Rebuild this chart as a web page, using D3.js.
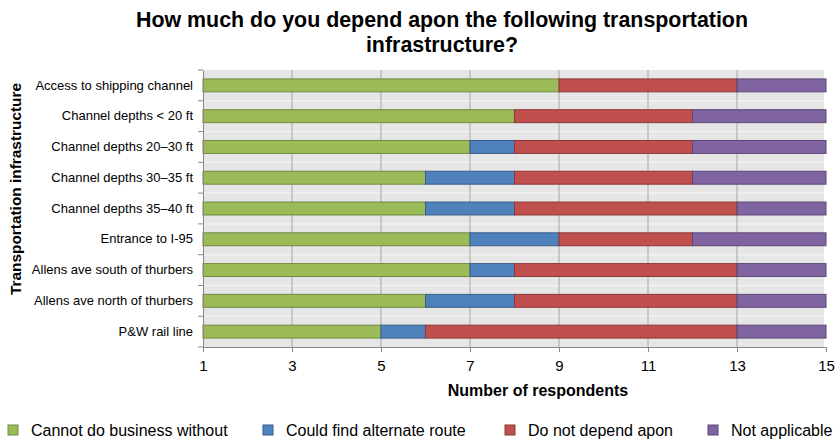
<!DOCTYPE html>
<html>
<head>
<meta charset="utf-8">
<script src="https://cdn.jsdelivr.net/npm/d3@7"></script>
<style>
  body { margin: 0; background: #fff; }
  text { font-family: "Liberation Sans", Arial, sans-serif; fill: #000; }
</style>
</head>
<body>
<div id="chart"></div>
<script>
// Data (respondents, 15 total per row)
var categories = ["Access to shipping channel", "Channel depths < 20 ft", "Channel depths 20\u201330 ft",
  "Channel depths 30\u201335 ft", "Channel depths 35\u201340 ft", "Entrance to I-95",
  "Allens ave south of thurbers", "Allens ave north of thurbers", "P&W rail line"];
var seriesNames = ["Cannot do business without", "Could find alternate route", "Do not depend apon", "Not applicable"];
var cannotDo = [9, 8, 7, 6, 6, 7, 7, 6, 5];
var alternate = [0, 0, 1, 2, 2, 2, 1, 2, 1];
var notDepend = [4, 4, 4, 4, 5, 3, 5, 5, 7];
var notApplicable = [2, 3, 3, 3, 2, 3, 2, 2, 2];
var xTicks = [1, 3, 5, 7, 9, 11, 13, 15];

var colors = ["#9bbb59", "#4f81bd", "#c0504d", "#8064a2"];
var strokes = ["#71893f", "#385d8a", "#8c3836", "#5c4776"];

var svgWidth = 838;
var svgHeight = 439;
var margin = { top: 70, right: 14, bottom: 92, left: 203 };
var width = svgWidth - margin.left - margin.right;
var height = svgHeight - margin.top - margin.bottom;

var svg = d3.select("#chart")
  .append("svg")
  .attr("width", svgWidth)
  .attr("height", svgHeight);

var chartGroup = svg.append("g")
  .attr("transform", `translate(${margin.left}, ${margin.top})`);

var rows = categories.map(function(c, i) {
  return { cat: c, s0: cannotDo[i], s1: alternate[i], s2: notDepend[i], s3: notApplicable[i] };
});
var stack = d3.stack().keys(["s0", "s1", "s2", "s3"])(rows);

var xScale = d3.scaleLinear().domain([1, 15]).range([0, width + 2]).clamp(true);
var yScale = d3.scaleBand().domain(categories).range([0, height]);
var barH = yScale.bandwidth() * 0.42;

// Plot background
chartGroup.append("rect")
  .attr("width", width).attr("height", height)
  .attr("fill", "#e6e6e6");

// horizontal band separators
chartGroup.append("g")
  .selectAll("line")
  .data(categories.slice(1))
  .enter()
  .append("line")
  .attr("x1", 0).attr("x2", width)
  .attr("y1", d => yScale(d)).attr("y2", d => yScale(d))
  .attr("stroke", "#f2f2f2").attr("stroke-width", 1.5);

// vertical gridlines
chartGroup.append("g")
  .selectAll("line")
  .data(xTicks.slice(1, -1))
  .enter()
  .append("line")
  .attr("x1", d => xScale(d)).attr("x2", d => xScale(d))
  .attr("y1", 0).attr("y2", height)
  .attr("stroke", "#a6a6a6").attr("stroke-width", 1);

// Bars
chartGroup.selectAll(".layer")
  .data(stack)
  .enter()
  .append("g")
  .attr("class", "layer")
  .attr("fill", (d, i) => colors[i])
  .attr("stroke", (d, i) => strokes[i])
  .selectAll("rect")
  .data(d => d.filter(p => p[1] > p[0]))
  .enter()
  .append("rect")
  .attr("x", d => xScale(d[0]))
  .attr("width", d => xScale(d[1]) - xScale(d[0]))
  .attr("y", d => yScale(d.data.cat) + (yScale.bandwidth() - barH) / 2)
  .attr("height", barH)
  .attr("stroke-width", 1);

// Axes
var yAxis = d3.axisLeft(yScale).tickSize(0).tickPadding(10);
var yG = chartGroup.append("g").call(yAxis);
yG.select(".domain").attr("stroke", "#888");
yG.selectAll("text").attr("font-size", "13px")
  .style("font-family", "'Liberation Sans', Arial, sans-serif");

chartGroup.append("g")
  .selectAll("line")
  .data(d3.range(categories.length + 1))
  .enter()
  .append("line")
  .attr("x1", -5).attr("x2", 0)
  .attr("y1", i => i * yScale.step()).attr("y2", i => i * yScale.step())
  .attr("stroke", "#888");

var xAxis = d3.axisBottom(xScale).tickValues(xTicks).tickSize(5).tickPadding(8);
var xG = chartGroup.append("g").attr("transform", `translate(0, ${height})`).call(xAxis);
xG.select(".domain").attr("stroke", "#888");
xG.selectAll(".tick line").attr("stroke", "#888");
xG.selectAll("text").attr("font-size", "15px")
  .style("font-family", "'Liberation Sans', Arial, sans-serif");

// Titles
svg.append("text")
  .attr("x", 442).attr("y", 27)
  .attr("text-anchor", "middle")
  .attr("font-size", "21.4px").attr("font-weight", "bold")
  .text("How much do you depend apon the following transportation");
svg.append("text")
  .attr("x", 442).attr("y", 52)
  .attr("text-anchor", "middle")
  .attr("font-size", "21.4px").attr("font-weight", "bold")
  .text("infrastructure?");

svg.append("text")
  .attr("transform", "rotate(-90)")
  .attr("x", -189).attr("y", 21)
  .attr("text-anchor", "middle")
  .attr("font-size", "15.4px").attr("font-weight", "bold")
  .text("Transportation infrastructure");

svg.append("text")
  .attr("x", 538).attr("y", 396)
  .attr("text-anchor", "middle")
  .attr("font-size", "16px").attr("font-weight", "bold")
  .text("Number of respondents");

// Legend
var legendX = [8, 263, 505, 708];
var legend = svg.append("g")
  .selectAll("g")
  .data(seriesNames)
  .enter()
  .append("g")
  .attr("transform", (d, i) => `translate(${legendX[i]}, 430)`);
legend.append("rect")
  .attr("x", 0).attr("y", -5)
  .attr("width", 10).attr("height", 10)
  .attr("fill", (d, i) => colors[i])
  .attr("stroke", (d, i) => strokes[i]);
legend.append("text")
  .attr("x", 23).attr("y", 6)
  .attr("font-size", "16px")
  .text(d => d);
</script>
</body>
</html>
